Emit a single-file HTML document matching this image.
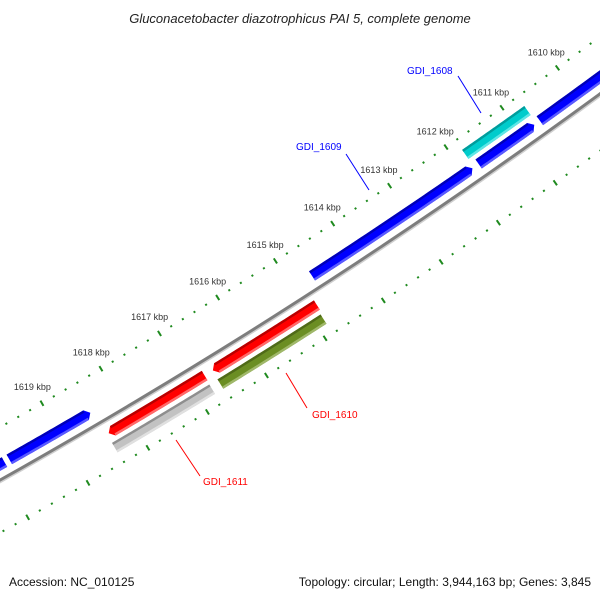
<!DOCTYPE html>
<html><head><meta charset="utf-8"><style>
html,body{margin:0;padding:0;background:#fff;}
svg{display:block;font-family:"Liberation Sans",sans-serif;}
</style></head><body>
<svg id="map" width="600" height="600" viewBox="0 0 600 600" xmlns="http://www.w3.org/2000/svg">
<text x="300" y="23" text-anchor="middle" font-size="13" font-style="italic" fill="#222">Gluconacetobacter diazotrophicus PAI 5, complete genome</text>
<text x="9" y="586" font-size="12" fill="#111">Accession: NC_010125</text>
<text x="591" y="586" font-size="12" text-anchor="end" fill="#111">Topology: circular; Length: 3,944,163 bp; Genes: 3,845</text>
<g id="layer"></g>
</svg>
<script>
// data
const tickKbp = [1607,1608,1609,1610,1611,1612,1613,1614,1615,1616,1617,1618,1619,1620,1621];
const tickLabels = ["","","","1610 kbp","1611 kbp","1612 kbp","1613 kbp","1614 kbp","1615 kbp","1616 kbp","1617 kbp","1618 kbp","1619 kbp","1620 kbp","1621 kbp"];
const geneNames = ["GDI_1608","GDI_1609","gene-b","gene-c","gene-left","gene-edge","red-upper","red-lower","GDI_1610","GDI_1611"];
const geneStart = [1610.72,1611.86,1610.76,1607.0,1618.46,1619.9,1614.84,1616.76,1614.87,1616.77];
const geneEnd   = [1611.83,1614.67,1611.75,1610.66,1619.82,1622.0,1616.62,1618.38,1616.63,1618.41];
const geneTrack = [-2,-1,-1,-1,-1,-1,1,1,2,2];
const geneColor = ["cyan","blue","blue","blue","blue","blue","red","red","green","gray"];
const geneArrow = ["none","start","start","none","start","none","end","end","none","none"];

const CX=-2894, CY=-4674, R0=5911, A0=53.95, DPK=0.6679;
const ang = k => (A0 + (k-1610)*DPK)*Math.PI/180;
const pt = (r,k) => [CX + r*Math.cos(ang(k)), CY + r*Math.sin(ang(k))];
const NS="http://www.w3.org/2000/svg";
const layer=document.getElementById('layer');
function mk(tag, attrs){const e=document.createElementNS(NS,tag);for(const k in attrs)e.setAttribute(k,attrs[k]);layer.appendChild(e);return e;}
function arcD(r,k1,k2){let d="";const n=40;for(let i=0;i<=n;i++){const p=pt(r,k1+(k2-k1)*i/n);d+=(i?"L":"M")+p[0].toFixed(2)+" "+p[1].toFixed(2);}return d;}

// backbone
let bs=mk('path',{d:arcD(R0+2,1605,1624),fill:'none',stroke:'#cfcfcf','stroke-width':2});


let bb=mk('path',{d:arcD(R0,1605,1624),fill:'none',stroke:'#7d7d7d','stroke-width':3});



// rulers
const RIN=5865, ROUT=5957, TC="#1f8a1f";
for(let i=0;i<tickKbp.length;i++){
  const k=tickKbp[i];
  for(const r of [RIN,ROUT]){
    const a=pt(r-3,k), b=pt(r+3,k);
    const t=mk('line',{x1:a[0],y1:a[1],x2:b[0],y2:b[1],stroke:TC,'stroke-width':2});
    
    
    if(i<tickKbp.length-1){
      for(let j=1;j<5;j++){
        const kk=k+j*0.2, c=pt(r-1,kk), d=pt(r+1,kk);
        const m=mk('line',{x1:c[0],y1:c[1],x2:d[0],y2:d[1],stroke:TC,'stroke-width':2});
        
        
      }
    }
  }
  if(tickLabels[i]){
    const lp=pt(RIN-19,k);
    const lt=mk('text',{x:lp[0],y:lp[1]+3,'text-anchor':'middle','font-size':9,fill:'#333'});
    lt.textContent=tickLabels[i];
    
    
  }
}

// genes
const pal={blue:['#0000ff','#0000b8','#5a5aff'],red:['#ff0000','#b80000','#ff6a6a'],green:['#6b8e23','#4f6a18','#a0b86a'],gray:['#c2c2c2','#8e8e8e','#e0e0e0'],cyan:['#00cccc','#009c9c','#5ee6e6']};
const HW=5.5, HEAD=0.07;
for(let i=0;i<geneNames.length;i++){
  const t=geneTrack[i];
  const r=R0+Math.sign(t)*(Math.abs(t)===1?13.5:29);
  const s=geneStart[i], e=geneEnd[i], c=pal[geneColor[i]];
  let bs1=s, be1=e;
  if(geneArrow[i]==='start') bs1=s+HEAD;
  if(geneArrow[i]==='end') be1=e-HEAD;
  const n=30, outer=[], inner=[];
  for(let j=0;j<=n;j++){const k=bs1+(be1-bs1)*j/n;outer.push(pt(r+HW,k));inner.push(pt(r-HW,k));}
  let pts=[...outer];
  if(geneArrow[i]==='end') pts.push(pt(r,e));
  pts=pts.concat(inner.reverse());
  if(geneArrow[i]==='start') pts.push(pt(r,s));
  const g=mk('polygon',{points:pts.map(p=>p[0].toFixed(2)+','+p[1].toFixed(2)).join(' '),fill:c[0]});
  
  
  const d1=mk('path',{d:arcD(r-HW+1.2,bs1,be1),fill:'none',stroke:c[1],'stroke-width':2.4});
  
  
  const d2=mk('path',{d:arcD(r+HW-1.2,bs1,be1),fill:'none',stroke:c[2],'stroke-width':2.4});
  
  
}

// gene labels
const labels=[["GDI_1608",407,74,"#0000ff",458,76,481,113],["GDI_1609",296,150,"#0000ff",346,154,369,190],["GDI_1610",312,418,"#ff0000",307,408,286,373],["GDI_1611",203,485,"#ff0000",200,476,176,440]];
for(const L of labels){
  const ln=mk('line',{x1:L[4],y1:L[5],x2:L[6],y2:L[7],stroke:L[3],'stroke-width':1});
  
  
  const t=mk('text',{x:L[1],y:L[2],'font-size':10,fill:L[3]});
  t.textContent=L[0];
  
  
}
</script>
</body></html>
